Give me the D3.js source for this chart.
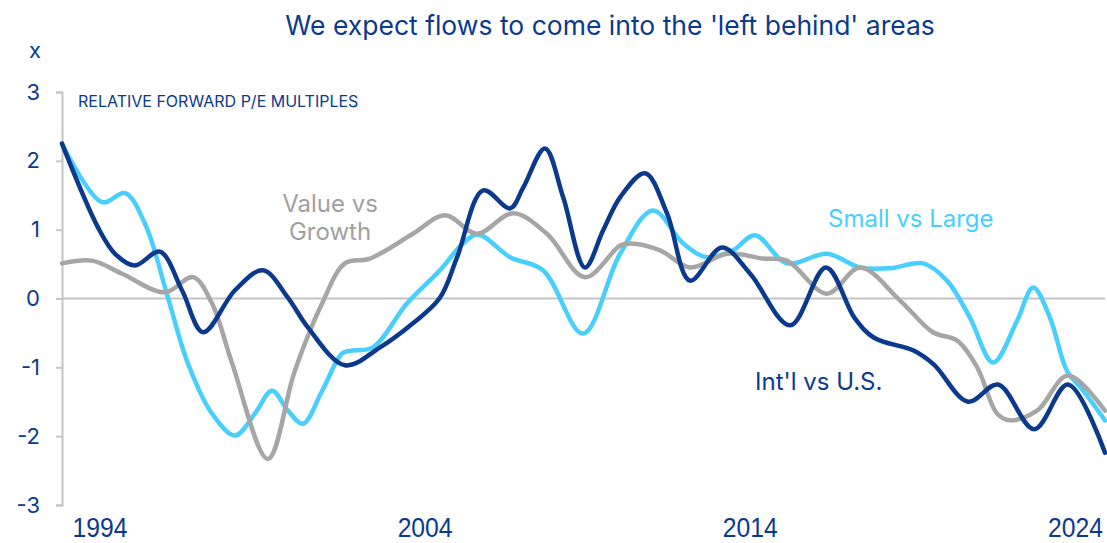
<!DOCTYPE html>
<html>
<head>
<meta charset="utf-8">
<script src="https://cdn.jsdelivr.net/npm/d3@7"></script>
<style>
  body { margin: 0; background: #fff; }
  svg { display: block; }
</style>
</head>
<body>
<div id="chart"></div>
<script>
  var width = 1107;
  var height = 543;

  var navy = "#0b3a8c";
  var cyan = "#48cffd";
  var grey = "#a6a6a6";

  // [year, multiple]
  var intlVsUS = [
    [1992.85, 2.25], [1993.96, 1.03], [1994.48, 0.65], [1995.09, 0.48], [1995.86, 0.68],
    [1996.54, 0.12], [1997.19, -0.49], [1998.17, 0.12], [1999.03, 0.41], [1999.80, 0.01],
    [2000.41, -0.42], [2001.55, -0.97], [2002.63, -0.71], [2003.64, -0.36], [2004.47, 0.01],
    [2005.00, 0.60], [2005.80, 1.57], [2006.63, 1.31], [2007.03, 1.61], [2007.70, 2.18],
    [2008.26, 1.47], [2008.93, 0.45], [2009.49, 0.99], [2010.01, 1.47], [2010.78, 1.82],
    [2011.45, 1.24], [2012.16, 0.26], [2013.14, 0.74], [2014.01, 0.36], [2015.24, -0.39],
    [2016.34, 0.45], [2017.23, -0.29], [2017.82, -0.57], [2019.05, -0.76], [2019.66, -0.96],
    [2020.71, -1.50], [2021.63, -1.25], [2022.74, -1.90], [2023.78, -1.25], [2024.92, -2.24]
  ];

  var smallVsLarge = [
    [1992.85, 2.25], [1994.08, 1.40], [1994.79, 1.53], [1995.40, 1.09], [1996.11, 0.01],
    [1996.72, -0.94], [1997.46, -1.67], [1998.17, -1.99], [1998.78, -1.67], [1999.31, -1.34],
    [1999.80, -1.63], [2000.26, -1.82], [2000.85, -1.34], [2001.46, -0.80], [2001.71, -0.76],
    [2002.41, -0.71], [2003.46, -0.07], [2004.47, 0.41], [2005.18, 0.80], [2005.64, 0.93],
    [2006.63, 0.60], [2007.64, 0.41], [2008.87, -0.51], [2010.01, 0.65], [2011.02, 1.28],
    [2011.95, 0.80], [2012.68, 0.60], [2013.48, 0.70], [2014.16, 0.92], [2015.14, 0.51],
    [2016.37, 0.65], [2017.39, 0.45], [2018.31, 0.44], [2019.33, 0.51], [2020.06, 0.26],
    [2020.77, -0.28], [2021.48, -0.93], [2022.22, -0.32], [2022.71, 0.16], [2023.23, -0.28],
    [2023.75, -1.05], [2024.25, -1.34], [2024.92, -1.77]
  ];

  var valueVsGrowth = [
    [1992.85, 0.51], [1993.77, 0.55], [1994.70, 0.36], [1996.02, 0.09], [1996.88, 0.31],
    [1997.46, -0.07], [1998.08, -0.94], [1999.18, -2.33], [2000.01, -1.05], [2000.85, -0.07],
    [2001.55, 0.51], [2002.32, 0.58], [2003.64, 0.94], [2004.63, 1.21], [2005.61, 0.94],
    [2006.72, 1.24], [2007.76, 0.94], [2008.93, 0.31], [2010.01, 0.77], [2010.32, 0.80],
    [2011.24, 0.70], [2012.16, 0.45], [2013.30, 0.65], [2014.41, 0.58], [2015.14, 0.55],
    [2016.37, 0.07], [2017.39, 0.45], [2018.62, -0.03], [2019.63, -0.49], [2020.37, -0.61],
    [2020.99, -1.00], [2021.60, -1.67], [2022.00, -1.77], [2022.83, -1.63], [2023.78, -1.12],
    [2024.92, -1.63]
  ];

  var yearTicks = [1994, 2004, 2014, 2024];
  var valueTicks = [-3, -2, -1, 0, 1, 2, 3];

  var svg = d3.select("#chart").append("svg")
    .attr("width", width)
    .attr("height", height);

  var x = d3.scaleLinear().domain([1992.85, 2024.92]).range([62, 1105]);
  var y = d3.scaleLinear().domain([-3, 3]).range([505, 92]);

  // title
  svg.append("text")
    .attr("x", 610).attr("y", 35)
    .attr("text-anchor", "middle")
    .style("font-family", "Inter, 'Noto Sans', sans-serif")
    .style("font-size", "26.5px")
    .style("fill", navy)
    .text("We expect flows to come into the 'left behind' areas");

  svg.append("text")
    .attr("x", 29).attr("y", 58)
    .style("font-family", "Inter, 'Noto Sans', sans-serif")
    .style("font-size", "22px")
    .style("fill", navy)
    .text("x");

  svg.append("text")
    .attr("x", 78).attr("y", 107)
    .style("font-family", "Inter, 'Noto Sans', sans-serif")
    .style("font-size", "16px")
    .style("fill", navy)
    .text("RELATIVE FORWARD P/E MULTIPLES");

  // y axis
  var yAxis = svg.append("g")
    .attr("transform", "translate(62,0)")
    .call(d3.axisLeft(y).tickValues(valueTicks).tickSize(6).tickPadding(16)
      .tickFormat(function(d) { return String(d); }));
  yAxis.select(".domain").attr("stroke", "#c4c4c4").attr("stroke-width", 2);
  yAxis.selectAll(".tick line").attr("stroke", "#c4c4c4").attr("stroke-width", 2);
  yAxis.selectAll(".tick text")
    .style("font-family", "Inter, 'Noto Sans', sans-serif")
    .style("font-size", "22px")
    .style("fill", navy);

  // zero line
  svg.append("line")
    .attr("x1", 62).attr("x2", 1105)
    .attr("y1", y(0)).attr("y2", y(0))
    .attr("stroke", "#c4c4c4")
    .attr("stroke-width", 2);

  // x axis, labels only (narrow face squeezed to width)
  var xAxis = svg.append("g")
    .attr("transform", "translate(0,503)")
    .call(d3.axisBottom(x).tickValues(yearTicks).tickSize(0).tickPadding(15)
      .tickFormat(function(d) { return String(d); }));
  xAxis.select(".domain").remove();
  xAxis.selectAll(".tick text")
    .attr("textLength", 55)
    .attr("lengthAdjust", "spacingAndGlyphs")
    .style("font-family", "'Liberation Sans', Arial, sans-serif")
    .style("font-size", "27px")
    .style("fill", navy);

  var line = d3.line()
    .x(function(d) { return x(d[0]); })
    .y(function(d) { return y(d[1]); })
    .curve(d3.curveCatmullRom.alpha(0.5));

  var series = [
    { name: "small", data: smallVsLarge, color: cyan },
    { name: "value", data: valueVsGrowth, color: grey },
    { name: "intl", data: intlVsUS, color: navy }
  ];

  svg.selectAll("path.series")
    .data(series)
    .enter()
    .append("path")
    .attr("class", "series")
    .attr("d", function(d) { return line(d.data); })
    .attr("fill", "none")
    .attr("stroke", function(d) { return d.color; })
    .attr("stroke-width", 4.5)
    .attr("stroke-linejoin", "round")
    .attr("stroke-linecap", "round");

  // series labels
  var lbl = svg.append("g")
    .style("font-family", "Inter, 'Noto Sans', sans-serif")
    .style("font-size", "24px");

  lbl.append("text").attr("x", 330).attr("y", 212).attr("text-anchor", "middle")
    .style("fill", "#a0a0a0").text("Value vs");
  lbl.append("text").attr("x", 330).attr("y", 240).attr("text-anchor", "middle")
    .style("fill", "#a0a0a0").text("Growth");
  lbl.append("text").attr("x", 828).attr("y", 227)
    .style("fill", cyan).text("Small vs Large");
  lbl.append("text").attr("x", 755).attr("y", 390)
    .style("fill", navy).text("Int'l vs U.S.");
</script>
</body>
</html>
